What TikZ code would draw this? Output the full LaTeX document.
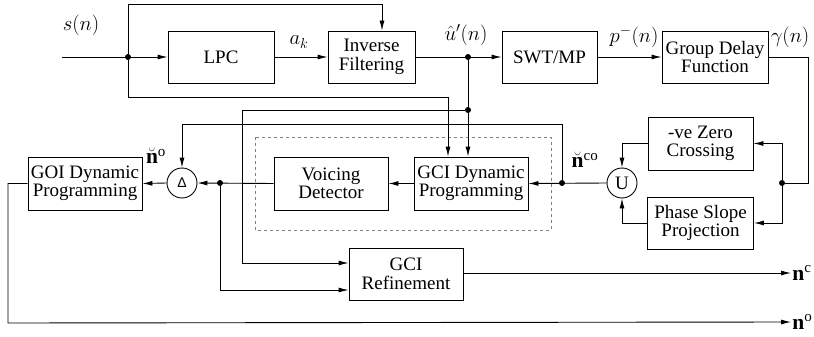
\documentclass[tikz,border=0pt]{standalone}
\usepackage{amsmath}
\usepackage{amssymb}
\usepackage{fontspec}
\setmainfont{Liberation Serif}
\newfontfamily\deltafont{Liberation Sans}
\usepackage{tikz}
\usetikzlibrary{calc, arrows.meta}
\tikzset{
    every node/.style={font=\fontsize{19}{18.5}\selectfont},
    blk/.style={draw, line width=0.9pt, align=center, inner sep=0pt, minimum width=106pt, minimum height=52pt},
    opcirc/.style={draw, circle, line width=0.9pt, inner sep=0pt, minimum size=30pt},
    junc/.style={circle, fill=black, inner sep=0pt, minimum size=6pt},
    sig/.style={font=\fontsize{21.5}{22}\selectfont, inner sep=1pt},
}

\begin{document}
\begin{tikzpicture}[x=1pt, y=-1pt, line width=0.9pt, >={Latex[length=10pt,width=5pt]}]
    \useasboundingbox (0,0) rectangle (814,337);

    % blocks
    \node[blk] (lpc) at (221,57) {LPC};
    \node[blk, minimum width=87pt] (inv) at (371.5,57) {Inverse\\Filtering};
    \node[blk, minimum width=95pt] (swt) at (549.5,57) {SWT/MP};
    \node[blk] (gdf) at (715,57) {Group Delay\\Function};
    \node[blk, minimum width=105pt, minimum height=53pt] (zc) at (700.5,143.5) {-ve Zero\\Crossing};
    \node[blk] (psp) at (700.5,223) {Phase Slope\\Projection};
    \node[blk, minimum width=114pt, minimum height=53pt] (gcidp) at (471,183.5) {GCI Dynamic\\Programming};
    \node[blk, minimum width=114pt, minimum height=53pt] (vd) at (331,183.5) {Voicing\\Detector};
    \node[blk, minimum width=114pt, minimum height=53pt] (goi) at (85,183.5) {GOI Dynamic\\Programming};
    \node[blk, minimum width=114pt] (ref) at (406,274) {GCI\\Refinement};
    \node[opcirc] (uni) at (622,183) {U};
    \node[opcirc] (dlt) at (182,183) {\fontsize{14}{14}\deltafont Δ};

    \draw[dashed, gray, line width=0.8pt] (255,137) rectangle (551,230);

    % junctions
    \coordinate (sin) at (62,57);
    \node[junc] (j1) at (128,57) {};
    \node[junc] (j2) at (468,57) {};
    \node[junc] (j5) at (468,110) {};
    \node[junc] (j4) at (562,183) {};
    \node[junc] (j3) at (782,183) {};
    \node[junc] (j6) at (220,183) {};
    \coordinate (t1) at (382,4);
    \coordinate (t2) at (448,97);
    \coordinate (t3) at (182,124);
    \coordinate (t4) at (242,263);
    \coordinate (t5) at (220,290);
    \coordinate (t6) at (8,323);
    \coordinate (t7) at (808,183);

    % labels
    \node[sig] (sn) at (81,25) {\(s(n)\)};
    \node[sig] (ak) at (299,42) {\(a_k\)};
    \node[sig] (uh) at (466,35) {\(\hat{u}'(n)\)};
    \node[sig] (pm) at (634,37) {\(p^{-}(n)\)};
    \node[sig] (gm) at (790,37) {\(\gamma(n)\)};
    \node[sig] (nco) at (585,160) {\(\breve{\mathbf{n}}^{\mathrm{co}}\)};
    \node[sig] (nov) at (156,156) {\(\breve{\mathbf{n}}^{\mathrm{o}}\)};
    \node[sig, anchor=west] (nc) at (791,273) {\(\mathbf{n}^{\mathrm{c}}\)};
    \node[sig, anchor=west] (no) at (791,322) {\(\mathbf{n}^{\mathrm{o}}\)};

    % connectors
    \draw[->] (sin) -- (lpc.west);
    \draw[->] (lpc) -- (inv);
    \draw[->] (j1) |- (t1) -- (t1 |- inv.north);
    \draw[->] (j1) |- (t2) -- (t2 |- gcidp.north);
    \draw[->] (inv) -- (swt);
    \draw[->] (swt) -- (gdf);
    \draw[->] (j2) -- (j2 |- gcidp.north);
    \draw[->] (j5) -| (t4) -- (t4 -| ref.west);
    \draw (gdf.east) -| (t7) -- (j3);
    \draw[->] (j3) |- (zc.east);
    \draw[->] (j3) |- (psp.east);
    \draw[->] (zc.west) -| (uni.north);
    \draw[->] (psp.west) -| (uni.south);
    \draw[->] (uni.west) -- (gcidp.east);
    \draw[->] (j4) |- (t3) -- (dlt.north);
    \draw[->] (gcidp) -- (vd);
    \draw[->] (vd.west) -- (dlt.east);
    \draw[->] (j6) -- (t5) -- (t5 -| ref.west);
    \draw[->] (dlt.west) -- (goi.east);
    \draw[->] (ref.east |- nc.west) -- (nc.west);
    \draw[->] (goi.west) -| (t6) -- (no.west);
\end{tikzpicture}
\end{document}
